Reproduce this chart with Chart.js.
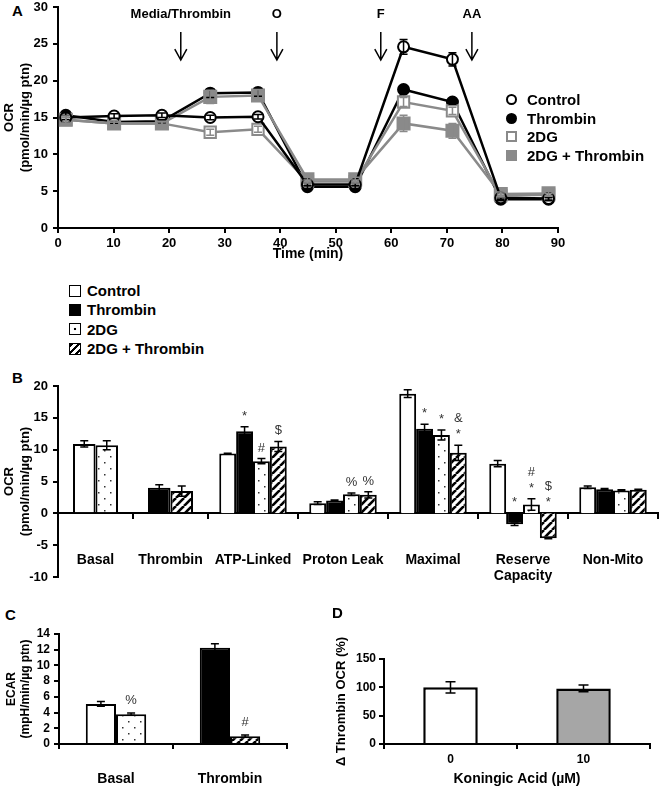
<!DOCTYPE html>
<html>
<head>
<meta charset="utf-8">
<title>OCR / ECAR panels</title>
<script src="https://cdn.jsdelivr.net/npm/chart.js@4.4.1/dist/chart.umd.min.js"></script>
<style>
  body { margin: 0; background: #fff; }
  #page { position: relative; width: 660px; height: 788px; overflow: hidden;
          font-family: 'Liberation Sans', Arial, sans-serif; font-weight: bold; color: #000; }
  canvas, .tag, .legend { position: absolute; }
  .tag { font-size: 15px; line-height: 15px; }
  .legend { font-size: 15px; }
  .legend div { white-space: nowrap; display: flex; align-items: center; }
  .sw { display: inline-block; box-sizing: border-box; flex: none; }
</style>
</head>
<body>
<div id="page">
  <div class="tag" style="left:12px; top:3px">A</div>
  <canvas id="chartA" width="660" height="264" style="left:0; top:0"></canvas>
  <div class="legend" id="legendA" style="left:506px; top:90px"></div>

  <div class="legend" id="legendB" style="left:69px; top:281px"></div>
  <div class="tag" style="left:12px; top:370px">B</div>
  <canvas id="chartB1" width="210" height="230" style="left:0; top:370px"></canvas>
  <canvas id="chartB2" width="452" height="230" style="left:208px; top:370px"></canvas>

  <div class="tag" style="left:5px; top:607px">C</div>
  <canvas id="chartC" width="300" height="183" style="left:0; top:605px"></canvas>
  <div class="tag" style="left:332px; top:605px">D</div>
  <canvas id="chartD" width="330" height="183" style="left:330px; top:605px"></canvas>
</div>
<script>
const seriesNames = ['Control', 'Thrombin', '2DG', '2DG + Thrombin'];

// ---- panel A: OCR time course ----
const timeA = [1.4, 10.1, 18.7, 27.4, 36.0, 44.9, 53.5, 62.2, 71.0, 79.7, 88.3];
const ctrlA = [15.0, 15.2, 15.3, 15.0, 15.1, 5.9, 5.9, 24.6, 22.9, 4.1, 4.0];
const thrA = [15.3, 14.4, 14.5, 18.3, 18.4, 5.6, 5.6, 18.8, 17.1, 3.9, 3.9];
const dgA = [14.7, 14.2, 14.2, 13.0, 13.4, 6.3, 6.3, 17.1, 15.9, 4.4, 4.5];
const dgThrA = [14.7, 14.2, 14.2, 17.8, 18.0, 6.6, 6.6, 14.2, 13.2, 4.6, 4.7];
const ctrlErrA = [0.3, 0.3, 0.3, 0.3, 0.3, 0.2, 0.2, 1.0, 0.9, 0.2, 0.2];
const thrErrA = [0.3, 0.2, 0.2, 0.6, 0.5, 0.2, 0.2, 0.5, 0.3, 0.2, 0.2];
const dgErrA = [0.3, 0.2, 0.2, 0.4, 0.4, 0.2, 0.2, 0.6, 0.5, 0.2, 0.2];
const dgThrErrA = [0.5, 0.4, 0.3, 0.9, 0.8, 0.3, 0.3, 1.1, 1.0, 0.3, 0.3];
const injectTimes = [22.1, 39.4, 58.1, 74.5];
const injectLabels = ['Media/Thrombin', 'O', 'F', 'AA'];

// ---- panel B: OCR parameters ----
const catsB = ['Basal', 'Thrombin', 'ATP-Linked', 'Proton Leak', 'Maximal', ['Reserve', 'Capacity'], 'Non-Mito'];
const ctrlB = [10.9, null, 9.4, 1.6, 18.8, 7.8, 4.1];
const thrB = [null, 4.0, 12.9, 2.0, 13.3, -1.7, 3.8];
const dgB = [10.7, null, 8.2, 3.0, 12.3, 1.4, 3.6];
const dgThrB = [null, 3.5, 10.5, 2.9, 9.5, -3.9, 3.7];
const ctrlErrB = [0.5, null, 0.05, 0.2, 0.6, 0.5, 0.2];
const thrErrB = [null, 0.5, 0.7, 0.1, 0.7, 0.2, 0.1];
const dgErrB = [0.7, null, 0.4, 0.2, 0.8, 0.9, 0.1];
const dgThrErrB = [null, 0.8, 0.8, 0.5, 1.2, 0.1, 0.1];
const thrSigB = ['', '', '*', '', '*', '*', ''];
const dgSigB = ['', '', '#', '%', '*', '#\n*', ''];
const dgThrSigB = ['', '', '$', '%', '&\n*', '$\n*', ''];

// ---- panel C: ECAR ----
const catsC = ['Basal', 'Thrombin'];
const ctrlC = [5.1, null];
const thrC = [null, 12.25];
const dgC = [3.8, null];
const dgThrC = [null, 1.0];
const ctrlErrC = [0.3, null];
const thrErrC = [null, 0.5];
const dgErrC = [0.15, null];
const dgThrErrC = [null, 0.15];
const dgSigC = ['%', ''];
const dgThrSigC = ['', '#'];

// ---- panel D: koningic acid ----
const catsD = ['0', '10'];
const deltaD = [100, 98];
const errD = [10, 6];

Chart.defaults.font.family = "'Liberation Sans', Arial, sans-serif";
Chart.defaults.font.weight = 'bold';
Chart.defaults.font.size = 13;
Chart.defaults.color = '#000';

const GRAY = '#8a8a8a';

function makeDots() {
  const c = document.createElement('canvas');
  c.width = 12; c.height = 12;
  const g = c.getContext('2d');
  g.fillStyle = '#fff'; g.fillRect(0, 0, 12, 12);
  g.fillStyle = '#333';
  g.fillRect(2, 2, 1.5, 1.5);
  g.fillRect(8, 8, 1.5, 1.5);
  return g.createPattern(c, 'repeat');
}
function makeHatch() {
  const c = document.createElement('canvas');
  c.width = 8; c.height = 8;
  const g = c.getContext('2d');
  g.fillStyle = '#fff'; g.fillRect(0, 0, 8, 8);
  g.strokeStyle = '#000'; g.lineWidth = 2.6;
  for (let k = -8; k <= 8; k += 8) {
    g.beginPath(); g.moveTo(k, 8); g.lineTo(k + 8, 0); g.stroke();
  }
  return g.createPattern(c, 'repeat');
}
const barFills = ['#fff', '#000', makeDots(), makeHatch()];

// error bars drawn from each dataset's "errors" list
const errorBars = {
  id: 'errorBars',
  afterDatasetsDraw(chart, args, opts) {
    const ctx = chart.ctx, ys = chart.scales.y;
    chart.data.datasets.forEach((ds, i) => {
      if (!ds.errors) return;
      const meta = chart.getDatasetMeta(i);
      ctx.save();
      ctx.strokeStyle = ds.errorColor || '#000';
      ctx.lineWidth = opts.width || 1.5;
      meta.data.forEach((el, j) => {
        const raw = ds.data[j];
        const v = (raw !== null && typeof raw === 'object') ? raw.y : raw;
        const e = ds.errors[j];
        if (v == null || e == null) return;
        const cap = opts.cap || 4;
        const yt = ys.getPixelForValue(v + e), yb = ys.getPixelForValue(v - e);
        ctx.beginPath();
        ctx.moveTo(el.x, yt); ctx.lineTo(el.x, yb);
        ctx.moveTo(el.x - cap, yt); ctx.lineTo(el.x + cap, yt);
        ctx.moveTo(el.x - cap, yb); ctx.lineTo(el.x + cap, yb);
        ctx.stroke();
      });
      ctx.restore();
    });
  }
};

// significance symbols stacked above the error bars
const sigMarks = {
  id: 'sigMarks',
  afterDatasetsDraw(chart, args, opts) {
    const ctx = chart.ctx, ys = chart.scales.y;
    ctx.save();
    ctx.font = "13px 'Liberation Sans', Arial, sans-serif";
    ctx.fillStyle = '#333';
    ctx.textAlign = 'center';
    ctx.textBaseline = 'alphabetic';
    chart.data.datasets.forEach((ds, i) => {
      if (!ds.sig) return;
      const meta = chart.getDatasetMeta(i);
      meta.data.forEach((el, j) => {
        const s = ds.sig[j];
        if (!s) return;
        const top = Math.max(ds.data[j] + (ds.errors[j] || 0), 0);
        let yb = ys.getPixelForValue(top) - opts.gap;
        const lines = s.split('\n');
        for (let k = lines.length - 1; k >= 0; k--) {
          ctx.fillText(lines[k], el.x, yb);
          yb -= opts.step;
        }
      });
    });
    ctx.restore();
  }
};

// injection arrows on the time course
const injections = {
  id: 'injections',
  afterDraw(chart) {
    const {ctx, scales: {x, y}} = chart;
    ctx.save();
    ctx.strokeStyle = '#000';
    ctx.fillStyle = '#000';
    ctx.lineWidth = 1.5;
    ctx.font = "bold 13px 'Liberation Sans', Arial, sans-serif";
    ctx.textAlign = 'center';
    ctx.textBaseline = 'middle';
    injectTimes.forEach((t, i) => {
      const px = x.getPixelForValue(t);
      const y0 = y.getPixelForValue(26.6), y1 = y.getPixelForValue(22.8);
      ctx.beginPath();
      ctx.moveTo(px, y0); ctx.lineTo(px, y1);
      ctx.moveTo(px - 6, y1 - 11); ctx.lineTo(px, y1); ctx.lineTo(px + 6, y1 - 11);
      ctx.stroke();
      ctx.fillText(injectLabels[i], px, y.getPixelForValue(29.05));
    });
    ctx.restore();
  }
};

const axisLine = { color: '#000', width: 2 };
const tickGrid = { drawOnChartArea: false, tickLength: 5, color: '#000', lineWidth: 2 };
// keep label overhang from shrinking the plot area
const noSidePad = s => { s.paddingLeft = 0; s.paddingRight = 0; };
const noEndPad = s => { s.paddingTop = 0; s.paddingBottom = 0; };

// ---- panel A ----
function lineSet(k, vals, errs, color, fill, style, radius, order) {
  return {
    label: seriesNames[k],
    data: timeA.map((t, i) => ({ x: t, y: vals[i] })),
    errors: errs,
    errorColor: color,
    borderColor: color,
    borderWidth: 2.5,
    pointStyle: style,
    pointRadius: radius,
    pointBorderWidth: 2,
    pointBorderColor: color,
    pointBackgroundColor: fill,
    tension: 0,
    order: order
  };
}

new Chart(document.getElementById('chartA'), {
  type: 'line',
  data: {
    datasets: [
      lineSet(0, ctrlA, ctrlErrA, '#000', '#fff', 'circle', 5.5, 0),
      lineSet(1, thrA, thrErrA, '#000', '#000', 'circle', 5.5, 3),
      lineSet(2, dgA, dgErrA, GRAY, '#fff', 'rect', 8, 2),
      lineSet(3, dgThrA, dgThrErrA, GRAY, GRAY, 'rect', 8.5, 1)
    ]
  },
  options: {
    responsive: false,
    animation: false,
    layout: { autoPadding: false, padding: { left: 0, right: 102, top: 7, bottom: 0 } },
    plugins: { legend: { display: false }, tooltip: { enabled: false }, errorBars: { cap: 4 } },
    scales: {
      x: {
        type: 'linear', min: 0, max: 90,
        ticks: { stepSize: 10, padding: 3 },
        grid: tickGrid, border: axisLine,
        title: { display: true, text: 'Time (min)', font: { size: 14 }, padding: { top: 0, bottom: 1 } },
        afterFit: s => { noSidePad(s); s.height = 36; }
      },
      y: {
        min: 0, max: 30,
        ticks: { stepSize: 5, padding: 5 },
        grid: tickGrid, border: axisLine,
        title: { display: true, text: ['OCR', '(pmol/min/µg ptn)'], padding: { top: 2, bottom: 0 } },
        afterFit: s => { noEndPad(s); s.width = 58; }
      }
    }
  },
  plugins: [errorBars, injections]
});

// ---- panel B (two category blocks sharing one y range) ----
function barSets(vals, errs, sigs, from, to) {
  return vals.map((v, k) => ({
    label: seriesNames[k],
    data: v.slice(from, to),
    errors: errs[k].slice(from, to),
    sig: sigs[k] ? sigs[k].slice(from, to) : null,
    backgroundColor: barFills[k],
    borderColor: '#000',
    borderWidth: 2,
    skipNull: true
  }));
}

const valsB = [ctrlB, thrB, dgB, dgThrB];
const errsB = [ctrlErrB, thrErrB, dgErrB, dgThrErrB];
const sigsB = [null, thrSigB, dgSigB, dgThrSigB];

function chartB(id, from, to, showY, catPct) {
  return new Chart(document.getElementById(id), {
    type: 'bar',
    data: { labels: catsB.slice(from, to), datasets: barSets(valsB, errsB, sigsB, from, to) },
    options: {
      responsive: false,
      animation: false,
      layout: { padding: { left: 0, right: 2, top: 16, bottom: 23 } },
      datasets: { bar: { categoryPercentage: catPct, barPercentage: 1 } },
      plugins: {
        legend: { display: false }, tooltip: { enabled: false },
        errorBars: { cap: 4 }, sigMarks: { gap: 7, step: 16 }
      },
      scales: {
        x: {
          position: { y: 0 },
          grid: tickGrid, border: axisLine,
          ticks: { padding: 33, font: { size: 14 }, maxRotation: 0, autoSkip: false },
          afterFit: noSidePad
        },
        y: {
          display: showY,
          min: -10, max: 20,
          ticks: { stepSize: 5, padding: 5, autoSkip: false },
          grid: tickGrid, border: axisLine,
          title: { display: true, text: ['OCR', '(pmol/min/µg ptn)'], padding: { top: 2, bottom: 0 } },
          afterFit: s => { noEndPad(s); s.width = showY ? 58 : 0; }
        }
      }
    },
    plugins: [errorBars, sigMarks]
  });
}
chartB('chartB1', 0, 2, true, 0.6);
chartB('chartB2', 2, 7, false, 0.75);

// ---- panel C ----
new Chart(document.getElementById('chartC'), {
  type: 'bar',
  data: {
    labels: catsC,
    datasets: barSets([ctrlC, thrC, dgC, dgThrC], [ctrlErrC, thrErrC, dgErrC, dgThrErrC],
      [null, null, dgSigC, dgThrSigC], 0, 2)
  },
  options: {
    responsive: false,
    animation: false,
    layout: { padding: { left: 0, right: 13, top: 29, bottom: 0 } },
    datasets: { bar: { categoryPercentage: 0.53, barPercentage: 1 } },
    plugins: {
      legend: { display: false }, tooltip: { enabled: false },
      errorBars: { cap: 4 }, sigMarks: { gap: 9, step: 16 }
    },
    scales: {
      x: {
        grid: tickGrid, border: axisLine,
        ticks: { padding: 22, font: { size: 14 } },
        afterFit: s => { noSidePad(s); s.height = 44; }
      },
      y: {
        min: 0, max: 14,
        ticks: { stepSize: 2, padding: 4, font: { size: 12 }, autoSkip: false },
        grid: tickGrid, border: axisLine,
        title: { display: true, text: ['ECAR', '(mpH/min/µg ptn)'], font: { size: 12 }, padding: { top: 4, bottom: 0 } },
        afterFit: s => { noEndPad(s); s.width = 59; }
      }
    }
  },
  plugins: [errorBars, sigMarks]
});

// ---- panel D ----
new Chart(document.getElementById('chartD'), {
  type: 'bar',
  data: {
    labels: catsD,
    datasets: [{
      label: 'Δ Thrombin OCR',
      data: deltaD,
      errors: errD,
      backgroundColor: ['#fff', '#a6a6a6'],
      borderColor: '#000',
      borderWidth: 2.5,
      categoryPercentage: 1,
      barPercentage: 0.41
    }]
  },
  options: {
    responsive: false,
    animation: false,
    layout: { padding: { left: 0, right: 10, top: 54, bottom: 0 } },
    plugins: { legend: { display: false }, tooltip: { enabled: false }, errorBars: { cap: 5 } },
    scales: {
      x: {
        grid: tickGrid, border: axisLine,
        ticks: { padding: 3, font: { size: 12 } },
        title: { display: true, text: 'Koningic Acid (µM)', font: { size: 14 }, padding: { top: 0, bottom: 0 } },
        afterFit: s => { noSidePad(s); s.height = 44; }
      },
      y: {
        min: 0, max: 150,
        ticks: { stepSize: 50, padding: 3, font: { size: 12 } },
        grid: tickGrid, border: axisLine,
        title: { display: true, text: 'Δ Thrombin OCR (%)', padding: { top: 4, bottom: 0 } },
        afterFit: s => { noEndPad(s); s.width = 54; }
      }
    }
  },
  plugins: [errorBars]
});

// ---- HTML legends ----
const markA = [
  'width:11px;height:11px;border:2px solid #000;border-radius:50%;background:#fff',
  'width:11px;height:11px;border-radius:50%;background:#000',
  'width:11px;height:11px;border:2px solid ' + GRAY + ';background:#fff',
  'width:11px;height:11px;background:' + GRAY
];
const markB = [
  'width:12px;height:12px;border:1.5px solid #000;background:#fff',
  'width:12px;height:12px;background:#000',
  'width:12px;height:12px;border:1.5px solid #000;background:radial-gradient(circle,#000 0 1px,#fff 1.6px)',
  'width:12px;height:12px;border:1.5px solid #000;background:repeating-linear-gradient(135deg,#000 0 2.5px,#fff 2.5px 5px)'
];
function fillLegend(id, marks, gap, rowH) {
  const box = document.getElementById(id);
  seriesNames.forEach((name, k) => {
    const row = document.createElement('div');
    row.style.height = rowH + 'px';
    const sw = document.createElement('span');
    sw.className = 'sw';
    sw.style.cssText = marks[k] + ';margin-right:' + gap + 'px';
    row.appendChild(sw);
    row.appendChild(document.createTextNode(name));
    box.appendChild(row);
  });
}
fillLegend('legendA', markA, 10, 18.7);
fillLegend('legendB', markB, 6, 19.3);
</script>
</body>
</html>
